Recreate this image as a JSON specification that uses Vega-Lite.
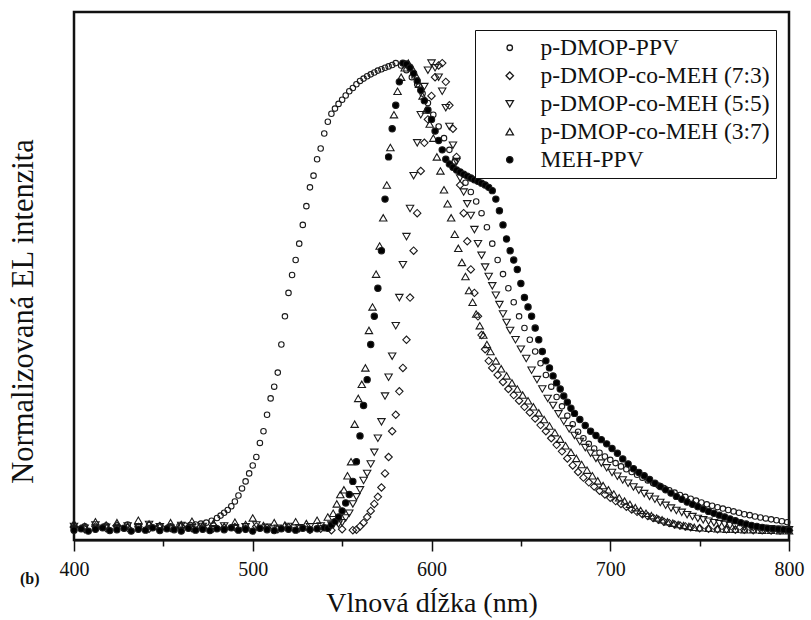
{
"$schema": "https://vega.github.io/schema/vega-lite/v6.json",
"width": 715, "height": 528,
"autosize": {"type": "none"},
"padding": {"left": 74, "top": 12, "right": 22, "bottom": 80},
"background": "white",
"config": {"view": {"stroke": "#111", "strokeWidth": 2.5}, "font": "Liberation Serif"},
"title": {"text": "(b)", "orient": "bottom", "anchor": "start", "frame": "group", "fontSize": 16, "fontWeight": "bold", "font": "Liberation Serif", "dx": -54, "dy": -50, "color": "#111"},
"data": {"values": [
{"s":"P","x":400,"y":0.008},{"s":"P","x":406,"y":0.012},{"s":"P","x":412,"y":0.009},{"s":"P","x":418,"y":0.014},{"s":"P","x":424,"y":0.011},{"s":"P","x":430,"y":0.016},{"s":"P","x":436,"y":0.012},{"s":"P","x":442,"y":0.015},{"s":"P","x":448,"y":0.013},{"s":"P","x":454,"y":0.012},
{"s":"P","x":459,"y":0.013},{"s":"P","x":462,"y":0.014},{"s":"P","x":465,"y":0.015},{"s":"P","x":468,"y":0.016},{"s":"P","x":471,"y":0.018},{"s":"P","x":474,"y":0.02},{"s":"P","x":477,"y":0.024},{"s":"P","x":480,"y":0.03},{"s":"P","x":482,"y":0.035},{"s":"P","x":484,"y":0.041},{"s":"P","x":486,"y":0.047},{"s":"P","x":488,"y":0.055},{"s":"P","x":490,"y":0.065},{"s":"P","x":492,"y":0.078},{"s":"P","x":494,"y":0.093},{"s":"P","x":496,"y":0.108},{"s":"P","x":498,"y":0.125},{"s":"P","x":500,"y":0.142},{"s":"P","x":502,"y":0.16},{"s":"P","x":504,"y":0.19},{"s":"P","x":506,"y":0.215},{"s":"P","x":508,"y":0.25},{"s":"P","x":510,"y":0.285},{"s":"P","x":512,"y":0.31},{"s":"P","x":514,"y":0.34},{"s":"P","x":516,"y":0.4},{"s":"P","x":518,"y":0.46},{"s":"P","x":520,"y":0.51},{"s":"P","x":522,"y":0.548},{"s":"P","x":524,"y":0.58},{"s":"P","x":526,"y":0.615},{"s":"P","x":528,"y":0.655},{"s":"P","x":530,"y":0.695},{"s":"P","x":532,"y":0.735},{"s":"P","x":534,"y":0.76},{"s":"P","x":536,"y":0.795},{"s":"P","x":538,"y":0.818},{"s":"P","x":540,"y":0.85},{"s":"P","x":542,"y":0.875},{"s":"P","x":544,"y":0.892},{"s":"P","x":546,"y":0.903},{"s":"P","x":548,"y":0.913},{"s":"P","x":550,"y":0.922},{"s":"P","x":552,"y":0.931},{"s":"P","x":554,"y":0.94},{"s":"P","x":556,"y":0.947},{"s":"P","x":558,"y":0.955},{"s":"P","x":560,"y":0.962},{"s":"P","x":562,"y":0.967},{"s":"P","x":564,"y":0.972},{"s":"P","x":566,"y":0.976},{"s":"P","x":568,"y":0.98},{"s":"P","x":570,"y":0.984},{"s":"P","x":572,"y":0.987},{"s":"P","x":574,"y":0.99},{"s":"P","x":576,"y":0.993},{"s":"P","x":578,"y":0.996},{"s":"P","x":580,"y":1.0},
{"s":"P","x":583,"y":0.995},{"s":"P","x":586,"y":0.985},{"s":"P","x":589,"y":0.97},{"s":"P","x":592,"y":0.955},{"s":"P","x":595,"y":0.935},{"s":"P","x":598,"y":0.915},{"s":"P","x":601,"y":0.89},{"s":"P","x":604,"y":0.865},{"s":"P","x":607,"y":0.84},{"s":"P","x":610,"y":0.815},{"s":"P","x":613,"y":0.79},{"s":"P","x":616,"y":0.767},{"s":"P","x":619,"y":0.745},{"s":"P","x":622,"y":0.725},{"s":"P","x":625,"y":0.705},{"s":"P","x":628,"y":0.68},{"s":"P","x":631,"y":0.65},{"s":"P","x":634,"y":0.615},{"s":"P","x":637,"y":0.58},{"s":"P","x":640,"y":0.55},{"s":"P","x":643,"y":0.52},{"s":"P","x":646,"y":0.49},{"s":"P","x":649,"y":0.46},{"s":"P","x":652,"y":0.435},{"s":"P","x":655,"y":0.41},{"s":"P","x":658,"y":0.385},{"s":"P","x":661,"y":0.36},{"s":"P","x":664,"y":0.335},{"s":"P","x":667,"y":0.31},{"s":"P","x":670,"y":0.288},{"s":"P","x":673,"y":0.268},{"s":"P","x":676,"y":0.248},{"s":"P","x":679,"y":0.23},{"s":"P","x":682,"y":0.214},{"s":"P","x":685,"y":0.2},{"s":"P","x":688,"y":0.188},{"s":"P","x":691,"y":0.178},{"s":"P","x":694,"y":0.169},{"s":"P","x":697,"y":0.161},{"s":"P","x":700,"y":0.154},{"s":"P","x":703,"y":0.147},{"s":"P","x":706,"y":0.14},{"s":"P","x":709,"y":0.134},{"s":"P","x":712,"y":0.128},{"s":"P","x":715,"y":0.122},{"s":"P","x":718,"y":0.116},{"s":"P","x":721,"y":0.11},{"s":"P","x":724,"y":0.104},{"s":"P","x":727,"y":0.099},{"s":"P","x":730,"y":0.094},{"s":"P","x":733,"y":0.089},{"s":"P","x":736,"y":0.084},{"s":"P","x":739,"y":0.079},{"s":"P","x":742,"y":0.075},{"s":"P","x":745,"y":0.071},{"s":"P","x":748,"y":0.067},{"s":"P","x":751,"y":0.063},{"s":"P","x":754,"y":0.059},{"s":"P","x":757,"y":0.056},{"s":"P","x":760,"y":0.053},{"s":"P","x":763,"y":0.05},{"s":"P","x":766,"y":0.047},{"s":"P","x":769,"y":0.044},{"s":"P","x":772,"y":0.041},{"s":"P","x":775,"y":0.038},{"s":"P","x":778,"y":0.036},{"s":"P","x":781,"y":0.033},{"s":"P","x":784,"y":0.031},{"s":"P","x":787,"y":0.029},{"s":"P","x":790,"y":0.027},{"s":"P","x":793,"y":0.025},{"s":"P","x":796,"y":0.023},{"s":"P","x":799,"y":0.021},
{"s":"D","x":400,"y":0.01},{"s":"D","x":406,"y":0.006},{"s":"D","x":412,"y":0.012},{"s":"D","x":418,"y":0.008},{"s":"D","x":424,"y":0.014},{"s":"D","x":430,"y":0.009},{"s":"D","x":436,"y":0.011},{"s":"D","x":442,"y":0.007},{"s":"D","x":448,"y":0.013},{"s":"D","x":454,"y":0.009},{"s":"D","x":460,"y":0.012},{"s":"D","x":466,"y":0.008},{"s":"D","x":472,"y":0.01},{"s":"D","x":478,"y":0.014},{"s":"D","x":484,"y":0.009},{"s":"D","x":490,"y":0.011},{"s":"D","x":496,"y":0.007},{"s":"D","x":502,"y":0.012},{"s":"D","x":508,"y":0.009},{"s":"D","x":514,"y":0.006},{"s":"D","x":520,"y":0.01},{"s":"D","x":526,"y":0.008},{"s":"D","x":532,"y":0.005},{"s":"D","x":538,"y":0.007},{"s":"D","x":544,"y":0.004},{"s":"D","x":550,"y":0.006},{"s":"D","x":556,"y":0.004},
{"s":"D","x":558,"y":0.005},{"s":"D","x":560,"y":0.012},{"s":"D","x":562,"y":0.02},{"s":"D","x":564,"y":0.032},{"s":"D","x":566,"y":0.045},{"s":"D","x":568,"y":0.06},{"s":"D","x":570,"y":0.075},{"s":"D","x":572,"y":0.095},{"s":"D","x":574,"y":0.125},{"s":"D","x":576,"y":0.16},{"s":"D","x":578,"y":0.215},{"s":"D","x":580,"y":0.25},{"s":"D","x":582,"y":0.3},{"s":"D","x":584,"y":0.35},{"s":"D","x":586,"y":0.41},{"s":"D","x":588,"y":0.5},{"s":"D","x":590,"y":0.6},{"s":"D","x":592,"y":0.68},{"s":"D","x":594,"y":0.77},{"s":"D","x":596,"y":0.83},{"s":"D","x":598,"y":0.88},{"s":"D","x":600,"y":0.93},{"s":"D","x":602,"y":0.97},{"s":"D","x":604,"y":0.995},{"s":"D","x":606,"y":1.0},
{"s":"D","x":608,"y":0.96},{"s":"D","x":610,"y":0.91},{"s":"D","x":612,"y":0.86},{"s":"D","x":614,"y":0.8},{"s":"D","x":616,"y":0.74},{"s":"D","x":618,"y":0.68},{"s":"D","x":620,"y":0.62},{"s":"D","x":622,"y":0.56},{"s":"D","x":624,"y":0.51},{"s":"D","x":626,"y":0.46},{"s":"D","x":628,"y":0.42},{"s":"D","x":630,"y":0.39},{"s":"D","x":632,"y":0.365},{"s":"D","x":634,"y":0.35},{"s":"D","x":637,"y":0.335},{"s":"D","x":640,"y":0.32},{"s":"D","x":643,"y":0.305},{"s":"D","x":646,"y":0.292},{"s":"D","x":649,"y":0.28},{"s":"D","x":652,"y":0.267},{"s":"D","x":655,"y":0.255},{"s":"D","x":658,"y":0.242},{"s":"D","x":661,"y":0.228},{"s":"D","x":664,"y":0.215},{"s":"D","x":667,"y":0.2},{"s":"D","x":670,"y":0.186},{"s":"D","x":673,"y":0.172},{"s":"D","x":676,"y":0.157},{"s":"D","x":679,"y":0.142},{"s":"D","x":682,"y":0.128},{"s":"D","x":685,"y":0.116},{"s":"D","x":688,"y":0.106},{"s":"D","x":691,"y":0.097},{"s":"D","x":694,"y":0.088},{"s":"D","x":697,"y":0.08},{"s":"D","x":700,"y":0.073},{"s":"D","x":703,"y":0.066},{"s":"D","x":706,"y":0.06},{"s":"D","x":709,"y":0.054},{"s":"D","x":712,"y":0.048},{"s":"D","x":715,"y":0.043},{"s":"D","x":718,"y":0.038},{"s":"D","x":721,"y":0.034},{"s":"D","x":724,"y":0.03},{"s":"D","x":727,"y":0.026},{"s":"D","x":730,"y":0.022},{"s":"D","x":733,"y":0.019},{"s":"D","x":736,"y":0.016},{"s":"D","x":739,"y":0.014},{"s":"D","x":742,"y":0.012},{"s":"D","x":745,"y":0.01},{"s":"D","x":750,"y":0.008},{"s":"D","x":755,"y":0.007},{"s":"D","x":760,"y":0.006},{"s":"D","x":765,"y":0.006},{"s":"D","x":770,"y":0.005},{"s":"D","x":775,"y":0.005},{"s":"D","x":780,"y":0.004},{"s":"D","x":785,"y":0.004},{"s":"D","x":790,"y":0.003},{"s":"D","x":795,"y":0.003},{"s":"D","x":800,"y":0.003},
{"s":"V","x":400,"y":0.012},{"s":"V","x":406,"y":0.008},{"s":"V","x":412,"y":0.015},{"s":"V","x":418,"y":0.01},{"s":"V","x":424,"y":0.007},{"s":"V","x":430,"y":0.013},{"s":"V","x":436,"y":0.009},{"s":"V","x":442,"y":0.016},{"s":"V","x":448,"y":0.011},{"s":"V","x":454,"y":0.008},{"s":"V","x":460,"y":0.014},{"s":"V","x":466,"y":0.01},{"s":"V","x":472,"y":0.012},{"s":"V","x":478,"y":0.007},{"s":"V","x":484,"y":0.013},{"s":"V","x":490,"y":0.009},{"s":"V","x":496,"y":0.011},{"s":"V","x":502,"y":0.015},{"s":"V","x":508,"y":0.01},{"s":"V","x":514,"y":0.008},{"s":"V","x":520,"y":0.012},{"s":"V","x":526,"y":0.009},{"s":"V","x":532,"y":0.011},{"s":"V","x":538,"y":0.013},{"s":"V","x":544,"y":0.015},{"s":"V","x":548,"y":0.017},
{"s":"V","x":550,"y":0.02},{"s":"V","x":552,"y":0.03},{"s":"V","x":554,"y":0.04},{"s":"V","x":556,"y":0.06},{"s":"V","x":558,"y":0.075},{"s":"V","x":560,"y":0.09},{"s":"V","x":562,"y":0.11},{"s":"V","x":564,"y":0.125},{"s":"V","x":566,"y":0.145},{"s":"V","x":568,"y":0.17},{"s":"V","x":570,"y":0.2},{"s":"V","x":572,"y":0.235},{"s":"V","x":574,"y":0.29},{"s":"V","x":576,"y":0.33},{"s":"V","x":578,"y":0.375},{"s":"V","x":580,"y":0.44},{"s":"V","x":582,"y":0.5},{"s":"V","x":584,"y":0.57},{"s":"V","x":586,"y":0.63},{"s":"V","x":588,"y":0.69},{"s":"V","x":590,"y":0.76},{"s":"V","x":592,"y":0.83},{"s":"V","x":594,"y":0.89},{"s":"V","x":596,"y":0.95},{"s":"V","x":598,"y":0.985},{"s":"V","x":600,"y":1.0},
{"s":"V","x":602,"y":0.99},{"s":"V","x":604,"y":0.97},{"s":"V","x":606,"y":0.94},{"s":"V","x":608,"y":0.905},{"s":"V","x":610,"y":0.865},{"s":"V","x":612,"y":0.825},{"s":"V","x":614,"y":0.79},{"s":"V","x":616,"y":0.755},{"s":"V","x":618,"y":0.725},{"s":"V","x":620,"y":0.7},{"s":"V","x":622,"y":0.675},{"s":"V","x":624,"y":0.645},{"s":"V","x":626,"y":0.615},{"s":"V","x":628,"y":0.59},{"s":"V","x":630,"y":0.565},{"s":"V","x":632,"y":0.545},{"s":"V","x":634,"y":0.525},{"s":"V","x":636,"y":0.505},{"s":"V","x":638,"y":0.485},{"s":"V","x":640,"y":0.465},{"s":"V","x":642,"y":0.447},{"s":"V","x":644,"y":0.43},{"s":"V","x":647,"y":0.41},{"s":"V","x":650,"y":0.39},{"s":"V","x":653,"y":0.37},{"s":"V","x":656,"y":0.345},{"s":"V","x":659,"y":0.325},{"s":"V","x":662,"y":0.305},{"s":"V","x":665,"y":0.285},{"s":"V","x":668,"y":0.27},{"s":"V","x":671,"y":0.252},{"s":"V","x":674,"y":0.236},{"s":"V","x":677,"y":0.22},{"s":"V","x":680,"y":0.206},{"s":"V","x":683,"y":0.193},{"s":"V","x":686,"y":0.18},{"s":"V","x":689,"y":0.168},{"s":"V","x":692,"y":0.157},{"s":"V","x":695,"y":0.147},{"s":"V","x":698,"y":0.137},{"s":"V","x":701,"y":0.127},{"s":"V","x":704,"y":0.119},{"s":"V","x":707,"y":0.111},{"s":"V","x":710,"y":0.104},{"s":"V","x":713,"y":0.096},{"s":"V","x":716,"y":0.089},{"s":"V","x":719,"y":0.082},{"s":"V","x":722,"y":0.076},{"s":"V","x":725,"y":0.07},{"s":"V","x":728,"y":0.063},{"s":"V","x":731,"y":0.057},{"s":"V","x":734,"y":0.051},{"s":"V","x":737,"y":0.046},{"s":"V","x":740,"y":0.042},{"s":"V","x":743,"y":0.037},{"s":"V","x":746,"y":0.033},{"s":"V","x":749,"y":0.029},{"s":"V","x":752,"y":0.026},{"s":"V","x":755,"y":0.023},{"s":"V","x":758,"y":0.02},{"s":"V","x":761,"y":0.018},{"s":"V","x":764,"y":0.016},{"s":"V","x":767,"y":0.014},{"s":"V","x":770,"y":0.012},{"s":"V","x":775,"y":0.01},{"s":"V","x":780,"y":0.009},{"s":"V","x":785,"y":0.008},{"s":"V","x":790,"y":0.007},{"s":"V","x":795,"y":0.006},{"s":"V","x":800,"y":0.005},
{"s":"T","x":400,"y":0.018},{"s":"T","x":406,"y":0.012},{"s":"T","x":412,"y":0.022},{"s":"T","x":418,"y":0.015},{"s":"T","x":424,"y":0.02},{"s":"T","x":430,"y":0.013},{"s":"T","x":436,"y":0.025},{"s":"T","x":442,"y":0.017},{"s":"T","x":448,"y":0.012},{"s":"T","x":454,"y":0.02},{"s":"T","x":460,"y":0.016},{"s":"T","x":466,"y":0.023},{"s":"T","x":472,"y":0.014},{"s":"T","x":478,"y":0.019},{"s":"T","x":484,"y":0.012},{"s":"T","x":490,"y":0.021},{"s":"T","x":496,"y":0.016},{"s":"T","x":500,"y":0.03},{"s":"T","x":506,"y":0.014},{"s":"T","x":512,"y":0.02},{"s":"T","x":518,"y":0.015},{"s":"T","x":524,"y":0.022},{"s":"T","x":530,"y":0.018},{"s":"T","x":536,"y":0.025},{"s":"T","x":542,"y":0.032},
{"s":"T","x":545,"y":0.04},{"s":"T","x":547,"y":0.06},{"s":"T","x":549,"y":0.08},{"s":"T","x":551,"y":0.09},{"s":"T","x":553,"y":0.12},{"s":"T","x":555,"y":0.15},{"s":"T","x":557,"y":0.23},{"s":"T","x":559,"y":0.285},{"s":"T","x":561,"y":0.315},{"s":"T","x":563,"y":0.35},{"s":"T","x":565,"y":0.43},{"s":"T","x":567,"y":0.48},{"s":"T","x":569,"y":0.55},{"s":"T","x":571,"y":0.61},{"s":"T","x":573,"y":0.67},{"s":"T","x":575,"y":0.74},{"s":"T","x":577,"y":0.82},{"s":"T","x":579,"y":0.89},{"s":"T","x":581,"y":0.94},{"s":"T","x":583,"y":0.97},{"s":"T","x":585,"y":0.99},{"s":"T","x":587,"y":1.0},
{"s":"T","x":589,"y":0.99},{"s":"T","x":591,"y":0.975},{"s":"T","x":593,"y":0.955},{"s":"T","x":595,"y":0.93},{"s":"T","x":597,"y":0.9},{"s":"T","x":599,"y":0.87},{"s":"T","x":601,"y":0.84},{"s":"T","x":603,"y":0.8},{"s":"T","x":605,"y":0.77},{"s":"T","x":607,"y":0.73},{"s":"T","x":609,"y":0.7},{"s":"T","x":611,"y":0.67},{"s":"T","x":613,"y":0.635},{"s":"T","x":615,"y":0.605},{"s":"T","x":617,"y":0.575},{"s":"T","x":619,"y":0.545},{"s":"T","x":621,"y":0.515},{"s":"T","x":623,"y":0.49},{"s":"T","x":625,"y":0.465},{"s":"T","x":627,"y":0.44},{"s":"T","x":629,"y":0.42},{"s":"T","x":631,"y":0.4},{"s":"T","x":633,"y":0.385},{"s":"T","x":636,"y":0.365},{"s":"T","x":639,"y":0.348},{"s":"T","x":642,"y":0.333},{"s":"T","x":645,"y":0.318},{"s":"T","x":648,"y":0.305},{"s":"T","x":651,"y":0.292},{"s":"T","x":654,"y":0.28},{"s":"T","x":657,"y":0.267},{"s":"T","x":660,"y":0.254},{"s":"T","x":663,"y":0.24},{"s":"T","x":666,"y":0.226},{"s":"T","x":669,"y":0.212},{"s":"T","x":672,"y":0.198},{"s":"T","x":675,"y":0.184},{"s":"T","x":678,"y":0.17},{"s":"T","x":681,"y":0.157},{"s":"T","x":684,"y":0.144},{"s":"T","x":687,"y":0.132},{"s":"T","x":690,"y":0.12},{"s":"T","x":693,"y":0.109},{"s":"T","x":696,"y":0.099},{"s":"T","x":699,"y":0.09},{"s":"T","x":702,"y":0.081},{"s":"T","x":705,"y":0.073},{"s":"T","x":708,"y":0.066},{"s":"T","x":711,"y":0.059},{"s":"T","x":714,"y":0.052},{"s":"T","x":717,"y":0.046},{"s":"T","x":720,"y":0.04},{"s":"T","x":723,"y":0.035},{"s":"T","x":726,"y":0.03},{"s":"T","x":729,"y":0.026},{"s":"T","x":732,"y":0.022},{"s":"T","x":735,"y":0.019},{"s":"T","x":738,"y":0.016},{"s":"T","x":741,"y":0.014},{"s":"T","x":744,"y":0.012},{"s":"T","x":747,"y":0.01},{"s":"T","x":750,"y":0.009},{"s":"T","x":755,"y":0.008},{"s":"T","x":760,"y":0.007},{"s":"T","x":765,"y":0.006},{"s":"T","x":770,"y":0.006},{"s":"T","x":775,"y":0.005},{"s":"T","x":780,"y":0.005},{"s":"T","x":785,"y":0.004},{"s":"T","x":790,"y":0.004},{"s":"T","x":795,"y":0.003},{"s":"T","x":800,"y":0.003},
{"s":"M","x":400,"y":0.004},{"s":"M","x":404,"y":0.007},{"s":"M","x":408,"y":0.002},{"s":"M","x":412,"y":0.006},{"s":"M","x":416,"y":0.009},{"s":"M","x":420,"y":0.003},{"s":"M","x":424,"y":0.005},{"s":"M","x":428,"y":0.008},{"s":"M","x":432,"y":0.002},{"s":"M","x":436,"y":0.006},{"s":"M","x":440,"y":0.004},{"s":"M","x":444,"y":0.009},{"s":"M","x":448,"y":0.003},{"s":"M","x":452,"y":0.007},{"s":"M","x":456,"y":0.005},{"s":"M","x":460,"y":0.002},{"s":"M","x":464,"y":0.008},{"s":"M","x":468,"y":0.004},{"s":"M","x":472,"y":0.006},{"s":"M","x":476,"y":0.003},{"s":"M","x":480,"y":0.007},{"s":"M","x":484,"y":0.005},{"s":"M","x":488,"y":0.009},{"s":"M","x":492,"y":0.004},{"s":"M","x":496,"y":0.006},{"s":"M","x":500,"y":0.002},{"s":"M","x":504,"y":0.008},{"s":"M","x":508,"y":0.005},{"s":"M","x":512,"y":0.003},{"s":"M","x":516,"y":0.007},{"s":"M","x":520,"y":0.006},{"s":"M","x":524,"y":0.004},{"s":"M","x":528,"y":0.008},{"s":"M","x":532,"y":0.005},{"s":"M","x":536,"y":0.007},{"s":"M","x":540,"y":0.009},
{"s":"M","x":542,"y":0.008},{"s":"M","x":544,"y":0.015},{"s":"M","x":546,"y":0.022},{"s":"M","x":548,"y":0.032},{"s":"M","x":550,"y":0.045},{"s":"M","x":552,"y":0.062},{"s":"M","x":554,"y":0.08},{"s":"M","x":556,"y":0.108},{"s":"M","x":558,"y":0.15},{"s":"M","x":560,"y":0.205},{"s":"M","x":562,"y":0.27},{"s":"M","x":564,"y":0.325},{"s":"M","x":566,"y":0.4},{"s":"M","x":568,"y":0.46},{"s":"M","x":570,"y":0.52},{"s":"M","x":572,"y":0.6},{"s":"M","x":574,"y":0.71},{"s":"M","x":576,"y":0.8},{"s":"M","x":578,"y":0.86},{"s":"M","x":580,"y":0.91},{"s":"M","x":582,"y":0.96},{"s":"M","x":584,"y":1.0},
{"s":"M","x":586,"y":0.998},{"s":"M","x":588,"y":0.99},{"s":"M","x":590,"y":0.978},{"s":"M","x":592,"y":0.962},{"s":"M","x":594,"y":0.942},{"s":"M","x":596,"y":0.92},{"s":"M","x":598,"y":0.9},{"s":"M","x":600,"y":0.88},{"s":"M","x":602,"y":0.855},{"s":"M","x":604,"y":0.835},{"s":"M","x":606,"y":0.815},{"s":"M","x":608,"y":0.795},{"s":"M","x":610,"y":0.785},{"s":"M","x":612,"y":0.778},{"s":"M","x":614,"y":0.772},{"s":"M","x":616,"y":0.768},{"s":"M","x":618,"y":0.763},{"s":"M","x":620,"y":0.759},{"s":"M","x":622,"y":0.755},{"s":"M","x":624,"y":0.751},{"s":"M","x":626,"y":0.748},{"s":"M","x":628,"y":0.744},{"s":"M","x":630,"y":0.74},{"s":"M","x":632,"y":0.735},{"s":"M","x":634,"y":0.728},{"s":"M","x":636,"y":0.71},{"s":"M","x":638,"y":0.685},{"s":"M","x":640,"y":0.655},{"s":"M","x":642,"y":0.625},{"s":"M","x":644,"y":0.6},{"s":"M","x":646,"y":0.58},{"s":"M","x":648,"y":0.56},{"s":"M","x":650,"y":0.53},{"s":"M","x":652,"y":0.5},{"s":"M","x":654,"y":0.48},{"s":"M","x":656,"y":0.46},{"s":"M","x":658,"y":0.435},{"s":"M","x":660,"y":0.41},{"s":"M","x":662,"y":0.385},{"s":"M","x":664,"y":0.365},{"s":"M","x":666,"y":0.35},{"s":"M","x":668,"y":0.333},{"s":"M","x":670,"y":0.318},{"s":"M","x":672,"y":0.305},{"s":"M","x":674,"y":0.29},{"s":"M","x":676,"y":0.277},{"s":"M","x":678,"y":0.264},{"s":"M","x":680,"y":0.253},{"s":"M","x":683,"y":0.24},{"s":"M","x":686,"y":0.227},{"s":"M","x":689,"y":0.215},{"s":"M","x":692,"y":0.206},{"s":"M","x":695,"y":0.197},{"s":"M","x":698,"y":0.188},{"s":"M","x":701,"y":0.178},{"s":"M","x":704,"y":0.168},{"s":"M","x":707,"y":0.156},{"s":"M","x":710,"y":0.145},{"s":"M","x":713,"y":0.135},{"s":"M","x":716,"y":0.127},{"s":"M","x":719,"y":0.12},{"s":"M","x":722,"y":0.112},{"s":"M","x":725,"y":0.104},{"s":"M","x":728,"y":0.097},{"s":"M","x":731,"y":0.09},{"s":"M","x":734,"y":0.083},{"s":"M","x":737,"y":0.076},{"s":"M","x":740,"y":0.07},{"s":"M","x":743,"y":0.064},{"s":"M","x":746,"y":0.059},{"s":"M","x":749,"y":0.054},{"s":"M","x":752,"y":0.049},{"s":"M","x":755,"y":0.044},{"s":"M","x":758,"y":0.04},{"s":"M","x":761,"y":0.036},{"s":"M","x":764,"y":0.032},{"s":"M","x":767,"y":0.028},{"s":"M","x":770,"y":0.024},{"s":"M","x":773,"y":0.02},{"s":"M","x":776,"y":0.017},{"s":"M","x":779,"y":0.014},{"s":"M","x":782,"y":0.012},{"s":"M","x":785,"y":0.01},{"s":"M","x":788,"y":0.008},{"s":"M","x":791,"y":0.007},{"s":"M","x":794,"y":0.006},{"s":"M","x":797,"y":0.005},{"s":"M","x":800,"y":0.004}
]},
"resolve": {"axis": {"x": "independent"}},
"layer": [
{
"transform": [{"filter": "datum.s !== 'M'"}],
"mark": {"type": "point", "opacity": 1, "strokeWidth": 1.1},
"encoding": {
"x": {"field": "x", "type": "quantitative", "scale": {"domain": [400, 800], "nice": false, "zero": false},
 "axis": {"orient": "bottom", "title": "Vlnová dĺžka (nm)", "values": [400,500,600,700,800], "grid": false, "tickSize": 11, "tickColor": "#111", "tickWidth": 1.5, "domainColor": "#111", "domainWidth": 2, "labelFont": "Liberation Serif", "labelFontSize": 20, "labelColor": "#111", "labelPadding": 8, "labelFlush": false, "titleFont": "Liberation Serif", "titleFontSize": 28, "titleFontWeight": "normal", "titleColor": "#111", "titlePadding": 10}},
"y": {"field": "y", "type": "quantitative", "scale": {"domain": [-0.017, 1.109], "nice": false, "zero": false},
 "axis": {"title": "Normalizovaná EL intenzita", "labels": false, "ticks": false, "grid": false, "domain": false, "titleFont": "Liberation Serif", "titleFontSize": 30.5, "titleFontWeight": "normal", "titleColor": "#111", "titlePadding": 36, "titleY": 299}},
"shape": {"field": "s", "type": "nominal", "scale": {"domain": ["P","D","V","T","M"], "range": ["circle","diamond","triangle-down","triangle-up","circle"]},
 "legend": {"title": null, "orient": "none", "legendX": 401, "legendY": 18, "strokeColor": "#111", "fillColor": "white", "padding": 6, "labelFont": "Liberation Serif", "labelFontSize": 23.5, "labelColor": "#111", "labelLimit": 400, "symbolStrokeWidth": 1.3, "symbolOffset": 17, "labelOffset": 19, "rowPadding": 3,
  "labelExpr": "datum.value === 'P' ? 'p-DMOP-PPV' : datum.value === 'D' ? 'p-DMOP-co-MEH (7:3)' : datum.value === 'V' ? 'p-DMOP-co-MEH (5:5)' : datum.value === 'T' ? 'p-DMOP-co-MEH (3:7)' : 'MEH-PPV'"}},
"size": {"field": "s", "type": "nominal", "scale": {"type": "ordinal", "domain": ["P","D","V","T","M"], "range": [30, 55, 55, 55, 40]},
 "legend": {"title": null, "orient": "none", "legendX": 401, "legendY": 18, "strokeColor": "#111", "fillColor": "white", "padding": 6, "labelFont": "Liberation Serif", "labelFontSize": 23.5, "labelColor": "#111", "labelLimit": 400, "symbolStrokeWidth": 1.3, "symbolOffset": 17, "labelOffset": 19, "rowPadding": 3,
  "labelExpr": "datum.value === 'P' ? 'p-DMOP-PPV' : datum.value === 'D' ? 'p-DMOP-co-MEH (7:3)' : datum.value === 'V' ? 'p-DMOP-co-MEH (5:5)' : datum.value === 'T' ? 'p-DMOP-co-MEH (3:7)' : 'MEH-PPV'"}},
"fill": {"field": "s", "type": "nominal", "scale": {"domain": ["P","D","V","T","M"], "range": ["transparent","transparent","transparent","transparent","#000"]},
 "legend": {"title": null, "orient": "none", "legendX": 401, "legendY": 18, "strokeColor": "#111", "fillColor": "white", "padding": 6, "labelFont": "Liberation Serif", "labelFontSize": 23.5, "labelColor": "#111", "labelLimit": 400, "symbolStrokeWidth": 1.3, "symbolOffset": 17, "labelOffset": 19, "rowPadding": 3,
  "labelExpr": "datum.value === 'P' ? 'p-DMOP-PPV' : datum.value === 'D' ? 'p-DMOP-co-MEH (7:3)' : datum.value === 'V' ? 'p-DMOP-co-MEH (5:5)' : datum.value === 'T' ? 'p-DMOP-co-MEH (3:7)' : 'MEH-PPV'"}},
"stroke": {"field": "s", "type": "nominal", "scale": {"domain": ["P","D","V","T","M"], "range": ["#1a1a1a","#1a1a1a","#1a1a1a","#1a1a1a","#1a1a1a"]},
 "legend": {"title": null, "orient": "none", "legendX": 401, "legendY": 18, "strokeColor": "#111", "fillColor": "white", "padding": 6, "labelFont": "Liberation Serif", "labelFontSize": 23.5, "labelColor": "#111", "labelLimit": 400, "symbolStrokeWidth": 1.3, "symbolOffset": 17, "labelOffset": 19, "rowPadding": 3,
  "labelExpr": "datum.value === 'P' ? 'p-DMOP-PPV' : datum.value === 'D' ? 'p-DMOP-co-MEH (7:3)' : datum.value === 'V' ? 'p-DMOP-co-MEH (5:5)' : datum.value === 'T' ? 'p-DMOP-co-MEH (3:7)' : 'MEH-PPV'"}}
}
},
{
"transform": [{"filter": "datum.s === 'M'"}],
"mark": {"type": "point", "opacity": 1, "strokeWidth": 1.1},
"encoding": {
"x": {"field": "x", "type": "quantitative", "scale": {"domain": [400, 800], "nice": false, "zero": false},
 "axis": {"orient": "bottom", "title": null, "values": [450,550,650,750], "labels": false, "domain": false, "grid": false, "tickSize": 6, "tickColor": "#111", "tickWidth": 1.5}},
"y": {"field": "y", "type": "quantitative", "scale": {"domain": [-0.017, 1.109], "nice": false, "zero": false}},
"shape": {"field": "s", "type": "nominal", "scale": {"domain": ["P","D","V","T","M"], "range": ["circle","diamond","triangle-down","triangle-up","circle"]}},
"size": {"field": "s", "type": "nominal", "scale": {"type": "ordinal", "domain": ["P","D","V","T","M"], "range": [30, 55, 55, 55, 40]}},
"fill": {"field": "s", "type": "nominal", "scale": {"domain": ["P","D","V","T","M"], "range": ["transparent","transparent","transparent","transparent","#000"]}},
"stroke": {"field": "s", "type": "nominal", "scale": {"domain": ["P","D","V","T","M"], "range": ["#1a1a1a","#1a1a1a","#1a1a1a","#1a1a1a","#1a1a1a"]}}
}
}
]
}
